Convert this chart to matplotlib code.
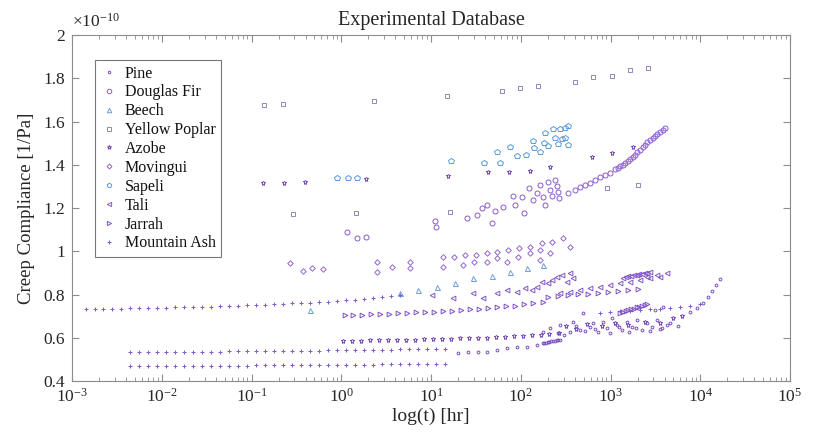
import matplotlib
matplotlib.use("Agg")
import matplotlib.pyplot as plt
import numpy as np
from matplotlib.ticker import FixedLocator, FixedFormatter, LogLocator, NullFormatter

plt.rcParams['font.family'] = ['Liberation Serif', 'DejaVu Serif']
plt.rcParams['mathtext.fontset'] = 'custom'
plt.rcParams['mathtext.rm'] = 'Liberation Serif'
plt.rcParams['mathtext.it'] = 'Liberation Serif:italic'

# creep data: log10(t [hr]) and J [1e-10 1/Pa]
pine_logt = [1.30, 1.41, 1.52, 1.62, 1.74, 1.85, 1.96, 2.07, 2.18, 2.25, 2.26, 2.28, 2.30, 2.32,
             2.34, 2.36, 2.38, 2.40, 2.42, 2.44,
             2.25, 2.33, 2.42, 2.44, 2.55, 2.58, 2.66, 2.69, 2.77, 2.80, 2.86, 2.92, 2.96, 3.02,
             3.07, 3.13, 3.18, 3.24, 3.30, 3.35, 3.41, 3.46, 3.52, 3.57, 3.63, 3.50, 3.59,
             2.48, 2.62, 2.72, 2.83, 2.99, 3.10, 3.21, 3.28, 3.44, 3.55, 3.66, 3.75,
             3.89, 3.96, 4.03, 4.09, 4.13, 4.18, 4.22]
pine_J = [0.529, 0.534, 0.534, 0.534, 0.543, 0.553, 0.557, 0.557, 0.566, 0.576, 0.576, 0.578, 0.580, 0.582,
          0.584, 0.586, 0.587, 0.588, 0.589, 0.590,
          0.627, 0.645, 0.622, 0.659, 0.627, 0.673, 0.636, 0.714, 0.650, 0.668, 0.627, 0.673, 0.645, 0.691,
          0.659, 0.636, 0.673, 0.650, 0.682, 0.636, 0.668, 0.650, 0.682, 0.645, 0.659, 0.728, 0.742,
          0.612, 0.655, 0.630, 0.640, 0.620, 0.650, 0.625, 0.645, 0.630, 0.640, 0.668, 0.655,
          0.719, 0.738, 0.761, 0.788, 0.816, 0.844, 0.872]

douglas_logt = [0.06, 0.18, 0.28, 1.04, 1.06, 1.40, 1.51, 1.57, 1.62, 1.68, 1.71, 1.80, 1.91, 1.94,
                2.01, 2.04, 2.09, 2.14, 2.18, 2.21, 2.25, 2.27, 2.30, 2.33, 2.35, 2.38, 2.40, 2.42, 2.43,
                2.53, 2.60, 2.66, 2.72, 2.77, 2.83, 2.88, 2.94, 2.99, 3.05, 3.08, 3.11, 3.14, 3.16,
                3.19, 3.22, 3.25, 3.27, 3.30, 3.33, 3.36, 3.38, 3.41, 3.44, 3.47, 3.50, 3.52, 3.55,
                3.58, 3.61]
douglas_J = [1.089, 1.061, 1.066, 1.140, 1.112, 1.154, 1.168, 1.200, 1.214, 1.131, 1.186, 1.205, 1.256, 1.214,
             1.251, 1.177, 1.292, 1.237, 1.269, 1.306, 1.251, 1.214, 1.320, 1.283, 1.256, 1.329, 1.302, 1.274, 1.246,
             1.269, 1.283, 1.297, 1.306, 1.316, 1.329, 1.343, 1.353, 1.362, 1.380, 1.387, 1.394, 1.401, 1.408,
             1.418, 1.427, 1.436, 1.445, 1.457, 1.468, 1.480, 1.491, 1.503, 1.514, 1.524, 1.533, 1.542, 1.551,
             1.561, 1.570]

beech_logt = [0.86, 1.07, 1.27, 1.47, 1.68, 1.88, 2.07, 2.25, -0.35, 0.65]
beech_J = [0.821, 0.835, 0.853, 0.876, 0.886, 0.904, 0.923, 0.936, 0.728, 0.807]

poplar_logt = [-0.86, -0.65, 0.36, 1.18, 1.79, 1.99, 2.19, 2.60, 2.81, 3.02, 3.22, 3.42,
               -0.54, 0.16, 1.21, 2.96, 3.31]
poplar_J = [1.676, 1.681, 1.695, 1.718, 1.741, 1.755, 1.764, 1.783, 1.806, 1.810, 1.838, 1.847,
            1.172, 1.177, 1.181, 1.292, 1.306]

azobe_logt = [-0.87, -0.64, -0.40, 0.28, 1.19, 1.64, 1.87, 2.10, 2.33, 2.79, 3.02, 3.25,
              0.02, 0.12, 0.22, 0.32, 0.42, 0.52, 0.62, 0.72, 0.82, 0.92, 1.02, 1.12, 1.22,
              1.32, 1.42, 1.52, 1.62, 1.72, 1.82, 1.92, 2.02, 2.12, 2.22, 2.32, 2.43,
              2.50, 2.62, 2.74, 2.90, 3.05, 3.20, 3.38, 3.55, 3.70, 3.80]
azobe_J = [1.316, 1.316, 1.320, 1.334, 1.348, 1.366, 1.366, 1.371, 1.390, 1.436, 1.454, 1.482,
           0.585, 0.586, 0.587, 0.588, 0.589, 0.590, 0.590, 0.591, 0.592, 0.593, 0.594, 0.595, 0.596,
           0.597, 0.598, 0.599, 0.601, 0.603, 0.605, 0.607, 0.609, 0.612, 0.615, 0.618, 0.622,
           0.655, 0.640, 0.662, 0.655, 0.668, 0.660, 0.675, 0.668, 0.690, 0.700]

movingui_logt = [-0.57, -0.43, -0.33, -0.20, 0.40, 0.40, 0.57, 0.77, 0.77, 1.13, 1.13, 1.26, 1.36, 1.38,
                 1.50, 1.48, 1.62, 1.62, 1.74, 1.74, 1.86, 1.85, 1.98, 1.97, 2.10, 2.10, 2.21, 2.21,
                 2.24, 2.33, 2.35, 2.47, 2.55]
movingui_J = [0.946, 0.909, 0.923, 0.918, 0.950, 0.904, 0.927, 0.950, 0.923, 0.973, 0.927, 0.973, 0.936, 0.983,
              0.983, 0.950, 0.992, 0.950, 0.997, 0.969, 1.006, 0.950, 1.015, 0.973, 1.020, 0.992, 1.006, 0.960,
              1.038, 0.992, 1.043, 1.061, 1.020]

sapeli_logt = [1.22, 1.59, 1.74, 1.77, 1.88, 1.96, 2.06, 2.15, 2.14, 2.21, 2.27, 2.26, 2.30, 2.36,
               2.38, 2.42, 2.44, 2.46, 2.49, 2.49, 2.53, 2.53, -0.05, 0.075, 0.175]
sapeli_J = [1.417, 1.408, 1.459, 1.408, 1.482, 1.440, 1.445, 1.477, 1.510, 1.459, 1.547, 1.501, 1.487, 1.565,
            1.524, 1.496, 1.565, 1.519, 1.570, 1.524, 1.491, 1.579, 1.339, 1.339, 1.339]

tali_logt = [1.01, 1.25, 1.47, 1.58, 1.74, 1.85, 1.96, 2.05, 2.13, 2.18, 2.24, 2.30, 2.35, 2.40,
             2.46, 2.52, 2.55, 2.58,
             2.44, 2.55, 2.66, 2.77, 2.88, 2.99, 3.11, 3.22, 3.33, 3.44, 3.55, 3.63, 3.30, 3.41, 3.52,
             3.14, 3.17, 3.20, 3.23, 3.26, 3.29, 3.32, 3.35, 3.38, 3.41, 3.44]
tali_J = [0.798, 0.786, 0.807, 0.786, 0.807, 0.821, 0.811, 0.830, 0.821, 0.835, 0.858, 0.853, 0.867, 0.881,
          0.890, 0.858, 0.899, 0.876,
          0.807, 0.811, 0.821, 0.830, 0.835, 0.846, 0.853, 0.858, 0.867, 0.876, 0.881, 0.899, 0.890, 0.881, 0.890,
          0.878, 0.881, 0.884, 0.886, 0.889, 0.891, 0.894, 0.896, 0.899, 0.901, 0.904]

jarrah_logt = [0.04, 0.13, 0.23, 0.33, 0.43, 0.53, 0.63, 0.73, 0.83, 0.93, 1.03, 1.13, 1.23, 1.33,
               1.43, 1.53, 1.64, 1.74, 1.84, 1.94, 2.04, 2.14, 2.25,
               2.30, 2.42, 2.53, 2.64, 2.75, 2.86, 2.97, 3.08, 3.20, 3.31,
               3.11, 3.14, 3.17, 3.20, 3.23, 3.26, 3.29, 3.32, 3.35, 3.38, 3.41]
jarrah_J = [0.705, 0.706, 0.707, 0.709, 0.710, 0.712, 0.713, 0.715, 0.717, 0.719, 0.721, 0.723, 0.725, 0.728,
            0.731, 0.734, 0.737, 0.741, 0.745, 0.749, 0.754, 0.759, 0.765,
            0.788, 0.793, 0.798, 0.802, 0.802, 0.807, 0.811, 0.816, 0.821, 0.825,
            0.714, 0.718, 0.723, 0.727, 0.731, 0.735, 0.740, 0.744, 0.748, 0.753, 0.757]

ash_logt = [-2.85, -2.75, -2.65, -2.55, -2.45, -2.35, -2.25, -2.15, -2.05, -1.95, -1.85, -1.75,
            -1.65, -1.55, -1.45, -1.35, -1.25, -1.15, -1.05, -0.95, -0.85, -0.75, -0.65, -0.55,
            -0.45, -0.35, -0.25, -0.15, -0.05, 0.05, 0.15, 0.25, 0.35, 0.45, 0.55, 0.65,
            2.88, 2.99, 3.11, 3.22, 3.33, 3.44, 3.55, 3.66, 3.77, 3.89, 4.00]
ash_J = [0.733, 0.733, 0.734, 0.734, 0.735, 0.736, 0.736, 0.737, 0.738, 0.739, 0.740, 0.741,
         0.742, 0.743, 0.744, 0.745, 0.747, 0.748, 0.750, 0.751, 0.753, 0.755, 0.757, 0.759,
         0.761, 0.763, 0.765, 0.767, 0.770, 0.773, 0.776, 0.780, 0.784, 0.788, 0.793, 0.798,
         0.715, 0.718, 0.722, 0.725, 0.728, 0.732, 0.735, 0.739, 0.743, 0.748, 0.755]

# two low-stress Mountain Ash series share the same time grid
ash_low_logt = [-2.35, -2.25, -2.15, -2.05, -1.95, -1.85, -1.75, -1.65, -1.55, -1.45, -1.35, -1.25,
                -1.15, -1.05, -0.95, -0.85, -0.75, -0.65, -0.55, -0.45, -0.35, -0.25, -0.15, -0.05,
                0.05, 0.15, 0.25, 0.35, 0.45, 0.55, 0.65, 0.75, 0.85, 0.95, 1.05, 1.15]
ash_mid_J = [0.533, 0.533, 0.534, 0.534, 0.534, 0.535, 0.535, 0.535, 0.536, 0.536, 0.536, 0.537,
             0.537, 0.538, 0.538, 0.538, 0.539, 0.539, 0.540, 0.540, 0.541, 0.541, 0.542, 0.542,
             0.543, 0.543, 0.544, 0.544, 0.545, 0.545, 0.546, 0.547, 0.547, 0.548, 0.549, 0.550]
ash_low_J = [0.468, 0.468, 0.468, 0.469, 0.469, 0.469, 0.469, 0.470, 0.470, 0.470, 0.470, 0.471,
             0.471, 0.471, 0.472, 0.472, 0.472, 0.473, 0.473, 0.473, 0.474, 0.474, 0.474, 0.475,
             0.475, 0.476, 0.476, 0.476, 0.477, 0.477, 0.478, 0.478, 0.479, 0.479, 0.480, 0.480]

species = [
    ('Pine', pine_logt, pine_J, '.', '#7b4fc0', 4.0),
    ('Douglas Fir', douglas_logt, douglas_J, 'o', '#8a5cd0', 3.6),
    ('Beech', beech_logt, beech_J, '^', '#6d9fd8', 3.6),
    ('Yellow Poplar', poplar_logt, poplar_J, 's', '#9783b8', 3.4),
    ('Azobe', azobe_logt, azobe_J, '*', '#7448b8', 3.6),
    ('Movingui', movingui_logt, movingui_J, 'D', '#9466cc', 2.8),
    ('Sapeli', sapeli_logt, sapeli_J, 'p', '#5a9ad8', 3.8),
    ('Tali', tali_logt, tali_J, '<', '#8358c6', 3.4),
    ('Jarrah', jarrah_logt, jarrah_J, '>', '#7e50c4', 3.4),
    ('Mountain Ash', ash_logt + ash_low_logt + ash_low_logt, ash_J + ash_mid_J + ash_low_J, '+', '#7c5ad0', 3.4),
]

fig = plt.figure(figsize=(8.19, 4.41), dpi=100)
ax = fig.add_axes([0.088, 0.136, 0.8766, 0.7846])

for name, logt, J, mk, col, ms in species:
    t = 10.0 ** np.array(logt)
    ax.plot(t, J, linestyle='none', marker=mk, markersize=ms, markerfacecolor='none',
            markeredgecolor=col, color=col, markeredgewidth=0.7, label=name)

ax.set_xscale('log')
ax.set_xlim(1e-3, 1e5)
ax.set_ylim(0.4, 2.0)
ax.xaxis.set_major_locator(LogLocator(base=10, numticks=20))
ax.xaxis.set_minor_locator(LogLocator(base=10, subs=np.arange(2, 10), numticks=20))
ax.xaxis.set_minor_formatter(NullFormatter())

yt = [0.4, 0.6, 0.8, 1.0, 1.2, 1.4, 1.6, 1.8, 2.0]
ax.yaxis.set_major_locator(FixedLocator(yt))
ax.yaxis.set_major_formatter(FixedFormatter(['0.4', '0.6', '0.8', '1', '1.2', '1.4', '1.6', '1.8', '2']))

axis_grey = '#8c8c8c'
for sp in ax.spines.values():
    sp.set_color(axis_grey)
    sp.set_linewidth(0.8)
ax.tick_params(which='both', direction='in', top=True, right=True, color=axis_grey,
               labelsize=12.5, labelcolor='#262626', pad=5)
ax.tick_params(which='major', length=5)
ax.tick_params(which='minor', length=2.8)

ax.text(0.0, 1.012, r'$\times10^{-10}$', transform=ax.transAxes, ha='left', va='bottom',
        fontsize=12.5, color='#262626')
ax.set_title('Experimental Database', fontsize=14.5, color='#262626', pad=7)
ax.set_xlabel('log(t) [hr]', fontsize=14, color='#262626', labelpad=1)
ax.set_ylabel('Creep Compliance [1/Pa]', fontsize=13.5, color='#262626', labelpad=6)

leg = ax.legend(loc='upper left', bbox_to_anchor=(0.032, 0.928), borderaxespad=0,
                fontsize=11.5, frameon=True, fancybox=False, handlelength=1.0,
                handletextpad=0.5, labelspacing=0.18, borderpad=0.35, markerscale=0.9)
leg.get_frame().set_edgecolor('#555555')
leg.get_frame().set_linewidth(0.8)
for txt in leg.get_texts():
    txt.set_color('#111111')

fig.savefig('out.png', dpi=100)
